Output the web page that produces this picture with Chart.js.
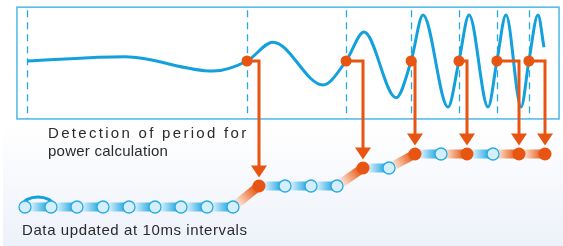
<!DOCTYPE html>
<html>
<head>
<meta charset="utf-8">
<script src="https://cdn.jsdelivr.net/npm/chart.js@4.4.1/dist/chart.umd.min.js"></script>
<style>
  html, body { margin: 0; padding: 0; background: #fff; }
  #wrap { position: relative; width: 563px; height: 246px; overflow: hidden; }
  #wrap canvas { position: absolute; left: 0; top: 0; }
  .label {
    position: absolute;
    font-family: "Liberation Sans", Arial, sans-serif;
    font-size: 15px;
    line-height: 17px;
    color: #2b2b2b;
    white-space: nowrap;
  }
</style>
</head>
<body>
<div id="wrap">
  <canvas id="chart" width="563" height="246"></canvas>
  <div class="label" style="left:48px; top:124px; letter-spacing:2.3px;">Detection of period for</div>
  <div class="label" style="left:48px; top:142px; letter-spacing:0.25px;">power calculation</div>
  <div class="label" style="left:22px; top:221px; letter-spacing:0.6px;">Data updated at 10ms intervals</div>
</div>
<script>
// input signal: time (ms) and normalised amplitude, read at crossings / peaks / troughs
const waveTimes = [0.8, 38.5, 72.3, 85.4, 95.4, 114.6, 123.5, 130.4, 142.7, 148.5, 153.1,
  162.7, 166.9, 170.8, 178.1, 181.5, 185.0, 190.8, 193.8, 197.3, 199.6];
const waveValues = [0, 0.09, -0.22, 0, 0.41, -0.52, 0, 0.63, -0.80, 0, 1.0,
  -1.0, 0, 1.0, -1.0, 0, 1.0, -1.0, 0, 1.0, 0.30];

// rising zero crossings (dashed markers) and the ones where a period is detected
const periodStarts = [0.8, 85.4, 123.5, 148.5, 166.9, 181.5, 193.8];
const detectTimes = [85.4, 123.5, 148.5, 166.9, 181.5, 193.8];

// 10 ms data updates and the step height of each one
const updateTimes = [0, 10, 20, 30, 40, 50, 60, 70, 80, 90, 100,
  110, 120, 130, 140, 150, 160, 170, 180, 190, 200];
const updateLevels = [39, 39, 39, 39, 39, 39, 39, 39, 39, 60, 60,
  60, 60, 78, 78, 92, 92, 92, 92, 92, 92];

// update at which each detected period is reported
const reportTimes = [90, 130, 150, 170, 190, 200];

const ORANGE = '#e85512';
const BLUE = '#14a0dc';
const FRAME = '#4cb8e8';

const isReport = updateTimes.map(t => reportTimes.includes(t));
const canvas = document.getElementById('chart');
const gctx = canvas.getContext('2d');

function bandGradient(c) {
  const orange = isReport[c.p1DataIndex];
  const g = gctx.createLinearGradient(c.p0.x, c.p0.y, c.p1.x, c.p1.y);
  const light = orange ? '#fbe0d0' : '#def2fc';
  const strong = orange ? '#e8611f' : '#2aa9e2';
  g.addColorStop(0.2, light);
  g.addColorStop(0.85, strong);
  return g;
}

const backgroundPlugin = {
  id: 'background',
  beforeDraw(chart) {
    const { ctx, width, height } = chart;
    ctx.save();
    ctx.fillStyle = '#fff';
    ctx.fillRect(0, 0, width, height);
    const g = ctx.createLinearGradient(0, 125, 0, height);
    g.addColorStop(0, '#ffffff');
    g.addColorStop(1, '#edf1f9');
    ctx.fillStyle = g;
    ctx.fillRect(3, 125, width - 3, height - 125);
    ctx.restore();
  },
};

const framePlugin = {
  id: 'frame',
  beforeDatasetsDraw(chart) {
    const { ctx, scales: { x, yWave, yChain } } = chart;
    const left = x.getPixelForValue(-3.1);
    const right = x.getPixelForValue(205.4);
    const top = yWave.getPixelForValue(1.17);
    const bottom = yWave.getPixelForValue(-1.26);
    ctx.save();
    ctx.fillStyle = '#fff';
    ctx.fillRect(left, top, right - left, bottom - top);
    ctx.strokeStyle = FRAME;
    ctx.lineWidth = 1.5;
    ctx.strokeRect(left, top, right - left, bottom - top);

    ctx.strokeStyle = '#2aa8e0';
    ctx.lineWidth = 1.3;
    ctx.setLineDash([7, 5]);
    periodStarts.forEach(t => {
      const px = Math.round(x.getPixelForValue(t)) + 0.5;
      ctx.beginPath();
      ctx.moveTo(px, top + 3);
      ctx.lineTo(px, bottom);
      ctx.stroke();
    });
    ctx.setLineDash([]);

    // bracket over the first 10 ms step
    const x0 = x.getPixelForValue(updateTimes[0]);
    const x1 = x.getPixelForValue(updateTimes[1]);
    const y0 = yChain.getPixelForValue(updateLevels[0]);
    ctx.strokeStyle = BLUE;
    ctx.lineWidth = 3;
    ctx.beginPath();
    ctx.ellipse((x0 + x1) / 2, y0 - 2, (x1 - x0) / 2 + 2, 8, 0, Math.PI, 2 * Math.PI);
    ctx.stroke();
    ctx.restore();
  },
};

const connectorPlugin = {
  id: 'connectors',
  afterDatasetsDraw(chart) {
    const { ctx, scales: { x, yWave, yChain } } = chart;
    ctx.save();
    ctx.strokeStyle = ORANGE;
    ctx.fillStyle = ORANGE;
    ctx.lineWidth = 3;
    ctx.lineJoin = 'miter';
    detectTimes.forEach((t, i) => {
      const px0 = x.getPixelForValue(t);
      const py0 = yWave.getPixelForValue(0);
      const px1 = x.getPixelForValue(reportTimes[i]);
      const level = updateLevels[updateTimes.indexOf(reportTimes[i])];
      const tipY = yChain.getPixelForValue(level) - 8.5;
      const baseY = tipY - 12;
      ctx.beginPath();
      ctx.moveTo(px0, py0);
      ctx.lineTo(px1, py0);
      ctx.lineTo(px1, baseY + 1);
      ctx.stroke();
      ctx.beginPath();
      ctx.moveTo(px1 - 8, baseY);
      ctx.lineTo(px1 + 8, baseY);
      ctx.lineTo(px1, tipY);
      ctx.closePath();
      ctx.fill();
    });
    ctx.restore();
  },
};

new Chart(canvas, {
  type: 'line',
  data: {
    datasets: [
      {
        label: 'signal',
        data: waveTimes.map((t, i) => ({ x: t, y: waveValues[i] })),
        yAxisID: 'yWave',
        borderColor: BLUE,
        borderWidth: 3,
        pointRadius: 0,
        cubicInterpolationMode: 'monotone',
        order: 3,
      },
      {
        label: 'updates',
        data: updateTimes.map((t, i) => ({ x: t, y: updateLevels[i] })),
        yAxisID: 'yChain',
        borderWidth: 9,
        tension: 0,
        pointRadius: isReport.map(r => (r ? 6.5 : 6)),
        pointBackgroundColor: isReport.map(r => (r ? ORANGE : '#d5eefb')),
        pointBorderColor: isReport.map(r => (r ? ORANGE : '#29abe2')),
        pointBorderWidth: isReport.map(r => (r ? 0 : 1.3)),
        segment: {
          borderColor: bandGradient,
          borderDashOffset: c => c.p0DataIndex,
        },
        order: 2,
      },
      {
        label: 'detected',
        data: detectTimes.map(t => ({ x: t, y: 0 })),
        yAxisID: 'yWave',
        showLine: false,
        pointRadius: 5.5,
        pointBackgroundColor: ORANGE,
        pointBorderWidth: 0,
        order: 1,
      },
    ],
  },
  options: {
    responsive: false,
    animation: false,
    events: [],
    layout: { padding: 0, autoPadding: false },
    scales: {
      x: { type: 'linear', min: -9.615, max: 206.92, display: false },
      yWave: { type: 'linear', min: -4.022, max: 1.326, display: false },
      yChain: { type: 'linear', min: 0, max: 246, display: false },
    },
    plugins: {
      legend: { display: false },
      tooltip: { enabled: false },
    },
  },
  plugins: [backgroundPlugin, framePlugin, connectorPlugin],
});
</script>
</body>
</html>
